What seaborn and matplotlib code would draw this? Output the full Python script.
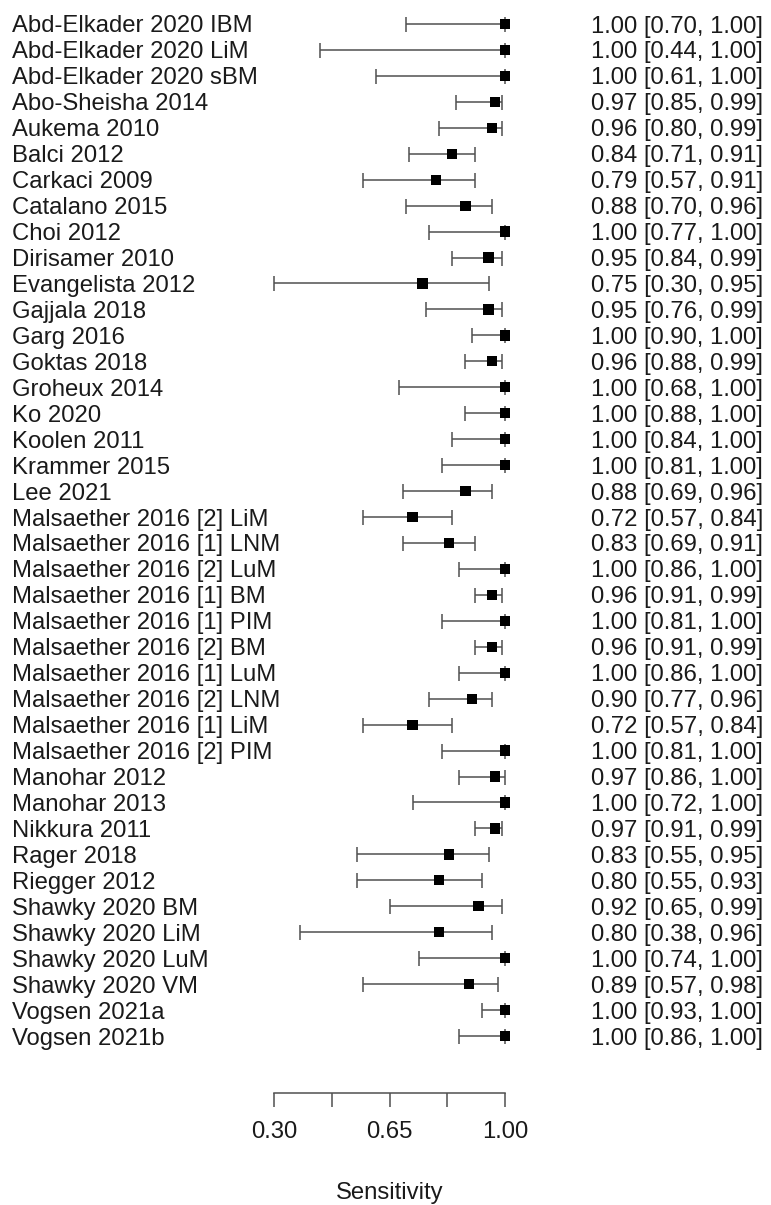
import numpy as np
import pandas as pd
import matplotlib
matplotlib.use("Agg")
import matplotlib.pyplot as plt
import seaborn as sns

# study labels and sensitivity estimates with 95% CI
studies = [
    "Abd-Elkader 2020 IBM", "Abd-Elkader 2020 LiM", "Abd-Elkader 2020 sBM",
    "Abo-Sheisha 2014", "Aukema 2010", "Balci 2012", "Carkaci 2009",
    "Catalano 2015", "Choi 2012", "Dirisamer 2010", "Evangelista 2012",
    "Gajjala 2018", "Garg 2016", "Goktas 2018", "Groheux 2014", "Ko 2020",
    "Koolen 2011", "Krammer 2015", "Lee 2021",
    "Malsaether 2016 [2] LiM", "Malsaether 2016 [1] LNM",
    "Malsaether 2016 [2] LuM", "Malsaether 2016 [1] BM",
    "Malsaether 2016 [1] PIM", "Malsaether 2016 [2] BM",
    "Malsaether 2016 [1] LuM", "Malsaether 2016 [2] LNM",
    "Malsaether 2016 [1] LiM", "Malsaether 2016 [2] PIM",
    "Manohar 2012", "Manohar 2013", "Nikkura 2011", "Rager 2018",
    "Riegger 2012", "Shawky 2020 BM", "Shawky 2020 LiM", "Shawky 2020 LuM",
    "Shawky 2020 VM", "Vogsen 2021a", "Vogsen 2021b",
]
est = [1.00, 1.00, 1.00, 0.97, 0.96, 0.84, 0.79, 0.88, 1.00, 0.95,
       0.75, 0.95, 1.00, 0.96, 1.00, 1.00, 1.00, 1.00, 0.88, 0.72,
       0.83, 1.00, 0.96, 1.00, 0.96, 1.00, 0.90, 0.72, 1.00, 0.97,
       1.00, 0.97, 0.83, 0.80, 0.92, 0.80, 1.00, 0.89, 1.00, 1.00]
lower = [0.70, 0.44, 0.61, 0.85, 0.80, 0.71, 0.57, 0.70, 0.77, 0.84,
         0.30, 0.76, 0.90, 0.88, 0.68, 0.88, 0.84, 0.81, 0.69, 0.57,
         0.69, 0.86, 0.91, 0.81, 0.91, 0.86, 0.77, 0.57, 0.81, 0.86,
         0.72, 0.91, 0.55, 0.55, 0.65, 0.38, 0.74, 0.57, 0.93, 0.86]
upper = [1.00, 1.00, 1.00, 0.99, 0.99, 0.91, 0.91, 0.96, 1.00, 0.99,
         0.95, 0.99, 1.00, 0.99, 1.00, 1.00, 1.00, 1.00, 0.96, 0.84,
         0.91, 1.00, 0.99, 1.00, 0.99, 1.00, 0.96, 0.84, 1.00, 1.00,
         1.00, 0.99, 0.95, 0.93, 0.99, 0.96, 1.00, 0.98, 1.00, 1.00]

tick_vals = [0.30, 0.475, 0.65, 0.825, 1.00]
tick_labels = ["0.30", "", "0.65", "", "1.00"]

df = pd.DataFrame({"study": studies, "est": est, "lo": lower, "hi": upper})
df["row"] = np.arange(len(df))

sns.set_style("white")
plt.rcParams["font.family"] = ["Liberation Sans", "DejaVu Sans"]

W, H = 771, 1205
fig = plt.figure(figsize=(W / 100, H / 100), dpi=100)
ax = fig.add_axes([0, 0, 1, 1])

# map data units to pixels: 0.30 -> x=274px, 1.00 -> x=505px
upp = 0.70 / 231
x0 = 0.30 - 274 * upp
x1 = 1.00 + (W - 505) * upp
ax.set_xlim(x0, x1)
# rows: row k at 24 + 25.95*k px from top
row0, step = 24, 25.95
ax.set_ylim((H - row0) / step, -row0 / step)
ax.axis("off")

line_col = "#505050"
txt_col = "#1a1a1a"
fs = 17.2

ax.errorbar(df["est"], df["row"],
            xerr=[df["est"] - df["lo"], df["hi"] - df["est"]],
            fmt="none", ecolor=line_col, elinewidth=1.1,
            capsize=5.4, capthick=1.1, zorder=2)
sns.scatterplot(data=df, x="est", y="row", marker="s", s=54,
                color="black", edgecolor="none", legend=False, ax=ax, zorder=3)

for _, r in df.iterrows():
    ax.text(x0 + 12 * upp, r["row"], r["study"], ha="left", va="center_baseline",
            fontsize=fs, color=txt_col)
    ax.text(x1 - 8 * upp, r["row"],
            f"{r['est']:.2f} [{r['lo']:.2f}, {r['hi']:.2f}]",
            ha="right", va="center_baseline", fontsize=fs, color=txt_col)

# x label, baseline a few px above the bottom edge
ax.text(0.65, (1199 - row0) / step, "Sensitivity", ha="center",
        va="baseline", fontsize=fs, color=txt_col)

# bottom axis
bax = fig.add_axes([274 / W, (H - 1093) / H, 231 / W, 0.005])
bax.set_xlim(0.30, 1.00)
bax.patch.set_alpha(0)
for s in ["top", "left", "right"]:
    bax.spines[s].set_visible(False)
bax.spines["bottom"].set_color(line_col)
bax.spines["bottom"].set_linewidth(1.1)
bax.set_yticks([])
bax.set_xticks(tick_vals)
bax.set_xticklabels(tick_labels)
bax.tick_params(axis="x", bottom=True, direction="out", length=10.4, width=1.1,
                color=line_col, labelsize=fs, labelcolor=txt_col, pad=10)

fig.savefig("out.png", dpi=100)
